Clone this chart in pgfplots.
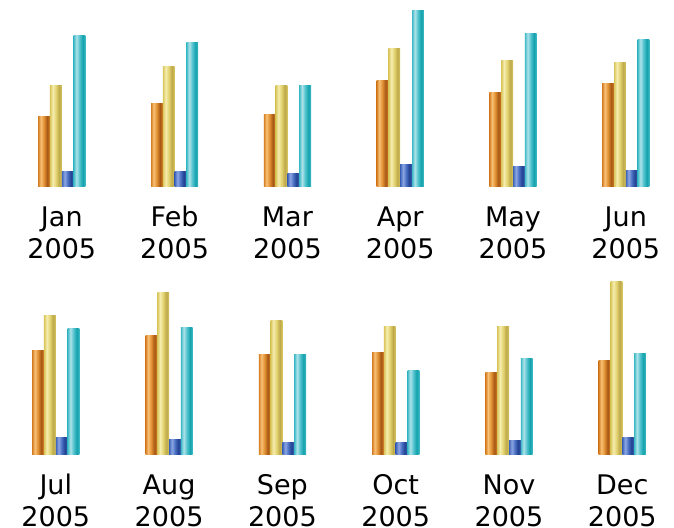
\documentclass[border=0pt]{standalone}
\usepackage{fontspec}
\setmainfont{DejaVu Sans}
\usepackage{pgfplots}
\pgfplotsset{compat=1.18}

% cylinder-like bar shadings (the bar spans 25bp..75bp of each shading)
\definecolor{o1}{HTML}{D67E24}\definecolor{o2}{HTML}{F7C176}
\definecolor{o3}{HTML}{E08E30}\definecolor{o4}{HTML}{A65816}
\pgfdeclarehorizontalshading{orangebar}{100bp}{
  color(0bp)=(o1); color(25bp)=(o1); color(36bp)=(o2); color(50bp)=(o3);
  color(63bp)=(o4); color(75bp)=(o1); color(100bp)=(o1)}
\definecolor{y1}{HTML}{D9C65C}\definecolor{y2}{HTML}{F5EDB0}
\definecolor{y3}{HTML}{E3D370}\definecolor{y4}{HTML}{BDA94C}
\pgfdeclarehorizontalshading{yellowbar}{100bp}{
  color(0bp)=(y1); color(25bp)=(y1); color(37bp)=(y2); color(50bp)=(y3);
  color(64bp)=(y4); color(75bp)=(y1); color(100bp)=(y1)}
\definecolor{b1}{HTML}{3D63BA}\definecolor{b2}{HTML}{8EA7E2}
\definecolor{b3}{HTML}{4A70C4}\definecolor{b4}{HTML}{22408F}
\pgfdeclarehorizontalshading{bluebar}{100bp}{
  color(0bp)=(b1); color(25bp)=(b1); color(37bp)=(b2); color(50bp)=(b3);
  color(64bp)=(b4); color(75bp)=(b1); color(100bp)=(b1)}
\definecolor{c1}{HTML}{3FBAC6}\definecolor{c2}{HTML}{AEE2E9}
\definecolor{c3}{HTML}{52C3CE}\definecolor{c4}{HTML}{14A2AC}
\pgfdeclarehorizontalshading{cyanbar}{100bp}{
  color(0bp)=(c1); color(25bp)=(c1); color(37bp)=(c2); color(50bp)=(c3);
  color(64bp)=(c4); color(75bp)=(c1); color(100bp)=(c1)}

\pgfplotsset{monthbars/.style={
  width=100bp, height=180bp, scale only axis,
  xmin=-0.5, xmax=0.5, ymin=0, ymax=180,
  hide axis, clip=false,
  ybar=0pt, bar width=11.8bp}}

% #1 group centre, #2 baseline, #3 month, #4-#7 values
\newcommand\grp[7]{%
  \begin{axis}[monthbars, at={(#1bp-50bp,#2bp)}, anchor=south west]
    \addplot[draw=none, shading=orangebar] coordinates {(0,#4)};
    \addplot[draw=none, shading=yellowbar] coordinates {(0,#5)};
    \addplot[draw=none, shading=bluebar] coordinates {(0,#6)};
    \addplot[draw=none, shading=cyanbar] coordinates {(0,#7)};
  \end{axis}
  \node[anchor=base] at (#1bp,#2bp-39.5bp) {#3};
  \node[anchor=base] at (#1bp,#2bp-71.5bp) {2005};
}

\begin{document}
\fontsize{27bp}{32bp}\selectfont
\begin{tikzpicture}
  \grp{61.8}{341.2}{Jan}{70.7}{101}{15.7}{151.7}
  \grp{174.6}{341.2}{Feb}{83.4}{120}{15.7}{144.7}
  \grp{287.4}{341.2}{Mar}{72.7}{101}{13.4}{101}
  \grp{400.2}{341.2}{Apr}{106}{138.7}{22.7}{176.3}
  \grp{513.0}{341.2}{May}{94}{126.7}{20}{153.4}
  \grp{625.8}{341.2}{Jun}{103.4}{124.7}{16.7}{147.4}
  \grp{55.8}{73}{Jul}{104.3}{139.3}{17.3}{126}
  \grp{169.1}{73}{Aug}{119}{162}{15}{127.5}
  \grp{282.4}{73}{Sep}{100}{134}{12.3}{100}
  \grp{395.7}{73}{Oct}{102.3}{128.7}{12.3}{84.7}
  \grp{509.0}{73}{Nov}{82.3}{128.3}{14}{96}
  \grp{622.3}{73}{Dec}{94}{173}{17}{101.5}
  \pgfresetboundingbox
  \path[use as bounding box] (0bp,0bp) rectangle (674bp,528bp);
\end{tikzpicture}
\end{document}
